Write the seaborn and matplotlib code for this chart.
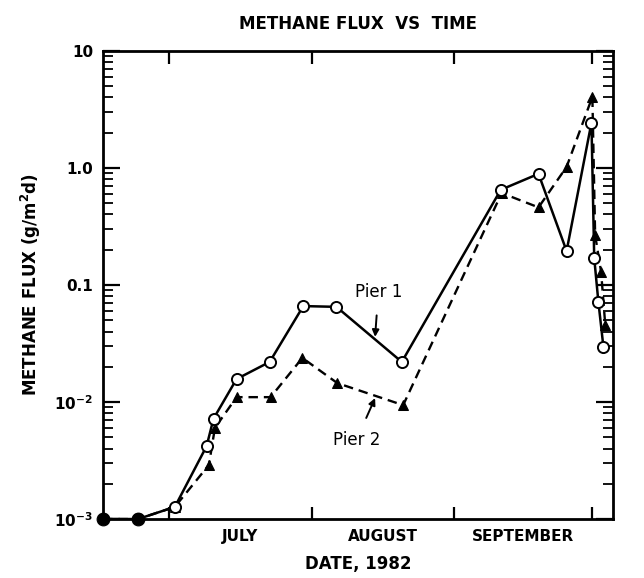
import numpy as np
import pandas as pd
import matplotlib
matplotlib.use("Agg")
import matplotlib.pyplot as plt
import seaborn as sns
from matplotlib.ticker import FixedLocator, LogLocator, NullFormatter, FixedFormatter

# ---- data (days since 1 July 1982, flux g/m^2/d) ----
pier1_day = [-14.3, -6.7, 1.3, 8.2, 9.7, 14.7, 21.9, 29.2, 36.4, 50.6,
             72.1, 80.3, 86.4, 91.8, 92.4, 93.3, 94.4]
pier1_flux = [0.001, 0.001, 0.00127, 0.0042, 0.0072, 0.0157, 0.022, 0.066,
              0.065, 0.022, 0.65, 0.89, 0.195, 2.43, 0.170, 0.072, 0.0295]
pier2_day = [-14.3, -6.7, 1.3, 8.7, 10.0, 14.7, 22.1, 29.0, 36.6, 50.9,
             72.3, 80.3, 86.4, 92.0, 92.6, 93.9, 94.8]
pier2_flux = [0.001, 0.001, 0.00127, 0.0029, 0.0060, 0.011, 0.011, 0.0238,
              0.0145, 0.0094, 0.61, 0.46, 1.02, 4.05, 0.267, 0.129, 0.0455]

month_edges = [0, 31, 62, 92]
month_mid = [15.5, 46.5, 77]
month_labels = ["JULY", "AUGUST", "SEPTEMBER"]
ytick_vals = [1e-3, 1e-2, 1e-1, 1, 10]
ytick_labels = ["10$^{-3}$", "10$^{-2}$", "0.1", "1.0", "10"]

df1 = pd.DataFrame({"day": pier1_day, "flux": pier1_flux})
df2 = pd.DataFrame({"day": pier2_day, "flux": pier2_flux})

sns.set_theme(style="ticks")
plt.rcParams["font.family"] = ["DejaVu Sans"]
plt.rcParams["font.weight"] = "bold"
plt.rcParams["text.color"] = "black"
plt.rcParams["axes.labelcolor"] = "black"
plt.rcParams["xtick.color"] = "black"
plt.rcParams["ytick.color"] = "black"

fig = plt.figure(figsize=(6.44, 5.78), dpi=100)
ax = fig.add_axes([0.160, 0.102, 0.792, 0.810])

sns.lineplot(data=df2, x="day", y="flux", ax=ax, color="black", lw=1.7,
             linestyle=(0, (4, 2.5)), marker="^", markersize=7.5,
             markerfacecolor="black", markeredgecolor="black", zorder=3)
sns.lineplot(data=df1, x="day", y="flux", ax=ax, color="black", lw=1.8,
             marker="o", markersize=8, markerfacecolor="white",
             markeredgecolor="black", markeredgewidth=1.4, zorder=4)
low = df1[df1["flux"] <= 0.001]
sns.scatterplot(data=low, x="day", y="flux", ax=ax, color="black", s=85,
                edgecolor="black", zorder=6, clip_on=False)

ax.set_yscale("log")
ax.set_ylim(1e-3, 10)
ax.set_xlim(-14.3, 96.5)

# y ticks
ax.yaxis.set_major_locator(FixedLocator(ytick_vals))
ax.yaxis.set_major_formatter(FixedFormatter(ytick_labels))
ax.yaxis.set_minor_locator(LogLocator(base=10, subs=np.arange(2, 10)))
ax.yaxis.set_minor_formatter(NullFormatter())
# x ticks
ax.xaxis.set_major_locator(FixedLocator(month_edges))
ax.xaxis.set_major_formatter(NullFormatter())
ax.xaxis.set_minor_locator(FixedLocator(month_mid))
ax.xaxis.set_minor_formatter(FixedFormatter(month_labels))

ax.tick_params(axis="y", which="major", direction="in", length=12, width=1.6,
               left=True, right=True, labelsize=11, pad=7)
ax.tick_params(axis="y", which="minor", direction="in", length=7, width=1.3,
               left=True, right=True)
ax.tick_params(axis="x", which="major", direction="in", length=9, width=1.6,
               top=True, bottom=True)
ax.tick_params(axis="x", which="minor", length=0, labelsize=11, pad=7)
for lab in ax.get_xticklabels(minor=True) + ax.get_yticklabels():
    lab.set_fontweight("bold")
    lab.set_color("black")

for s in ax.spines.values():
    s.set_linewidth(2)
    s.set_color("black")
    s.set_visible(True)

ax.set_xlabel("DATE, 1982", fontsize=12, fontweight="bold", labelpad=8,
              color="black")
ax.set_ylabel("METHANE FLUX (g/m$^2$d)", fontsize=12, fontweight="bold",
              labelpad=8, color="black")
ax.set_title("METHANE FLUX  VS  TIME", fontsize=12, fontweight="bold", pad=16,
             color="black")

ax.annotate("Pier 1", xy=(44.8, 0.036), xytext=(45.5, 0.087),
            ha="center", va="center", fontsize=12, fontweight="normal",
            color="black",
            arrowprops=dict(arrowstyle="-|>", color="black", lw=1.4,
                            mutation_scale=10, shrinkA=8, shrinkB=0))
ax.annotate("Pier 2", xy=(44.8, 0.0108), xytext=(40.7, 0.0047),
            ha="center", va="center", fontsize=12, fontweight="normal",
            color="black",
            arrowprops=dict(arrowstyle="-|>", color="black", lw=1.4,
                            mutation_scale=10, shrinkA=8, shrinkB=0))

ax.grid(False)
fig.savefig("out.png", dpi=100, facecolor="white")
